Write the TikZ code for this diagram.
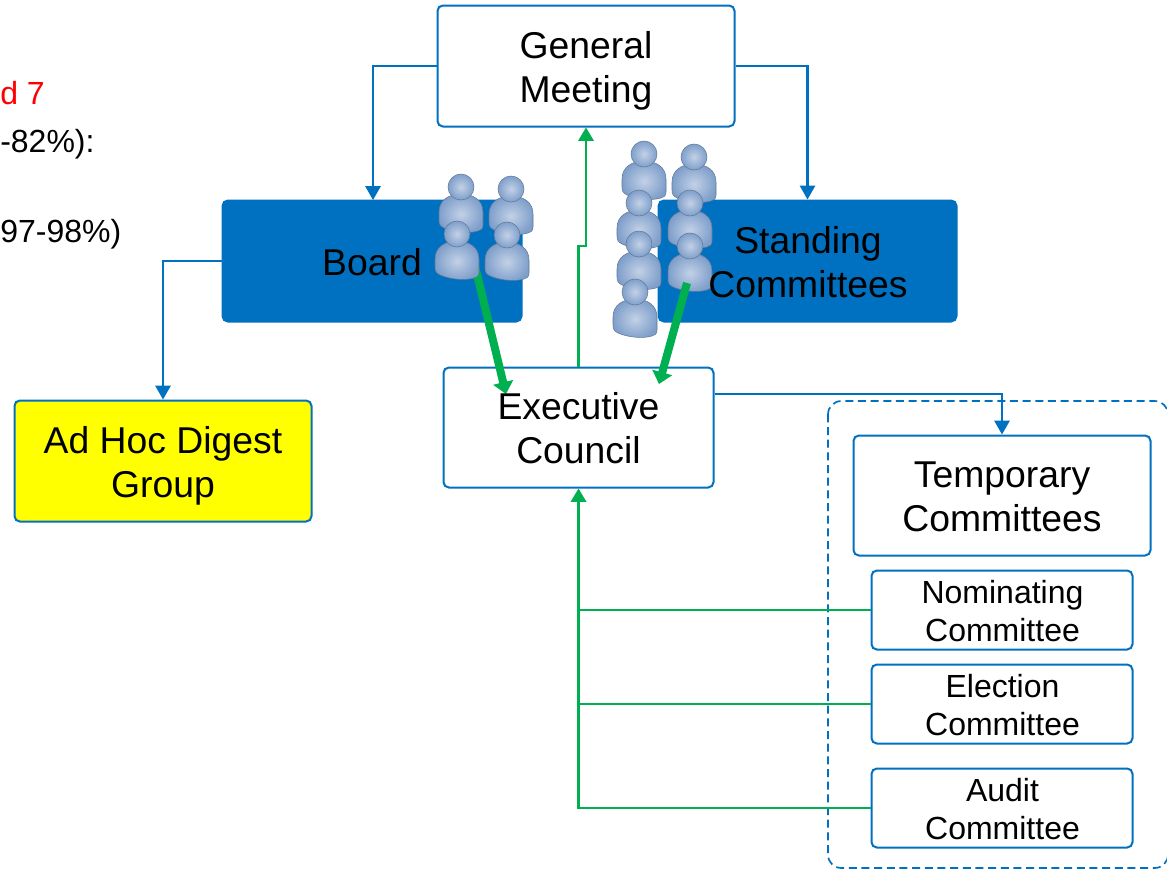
\documentclass[tikz,border=0pt]{standalone}
\usepackage{fontspec}
\setmainfont{Liberation Sans}
\usepackage{tikz}
\usetikzlibrary{arrows.meta,
                calc,
                positioning}
\definecolor{bluebox}{HTML}{0070C0}
\definecolor{greenline}{HTML}{00B050}
\definecolor{brightyellow}{RGB}{255,255,0}
\definecolor{headin}{HTML}{C3D1E6}
\definecolor{headout}{HTML}{7F9FCB}
\definecolor{personedge}{HTML}{5F7893}

\tikzset{
  bigtext/.style={font=\fontsize{28}{33}\selectfont,align=center,inner sep=0pt},
  smalltext/.style={font=\fontsize{24}{28.5}\selectfont,align=center,inner sep=0pt},
  boxsize/.style 2 args={minimum width=#1*0.75pt,minimum height=#2*0.75pt},
  whitebox/.style={draw=bluebox,fill=white,line width=1.5pt,rounded corners=4pt,inner sep=0pt},
  bluefill/.style={whitebox,fill=bluebox},
  yellowfill/.style={whitebox,fill=brightyellow},
  bluearrow/.style={draw=bluebox,line width=1.6pt,-{Triangle[length=10.5pt,width=11.5pt]}},
  greenarrow/.style={draw=greenline,line width=1.6pt,-{Triangle[length=10pt,width=11.5pt]}},
  fatarrow/.style={draw=greenline,line width=6pt,-{Triangle[length=9pt,width=15pt]}},
  person/.pic={
    \path[draw=personedge,line width=.4pt,inner color=headin,outer color=headout]
      (-22,25) .. controls (-22,13) and (-12,7) .. (0,7)
      .. controls (12,7) and (22,13) .. (22,25)
      -- (22,38) .. controls (22,42) and (20,43) .. (17,44)
      .. controls (7,47) and (-8,45) .. (-17,41)
      .. controls (-21,39) and (-22,37) .. (-22,33) -- cycle;
    \path[draw=personedge,line width=.4pt,inner color=headin,outer color=headout]
      (0,0) circle (13*0.75pt);
  }
}

\begin{document}
\begin{tikzpicture}[x=0.75pt,y=-0.75pt]
\useasboundingbox (0,0) rectangle (1167,869);

% cut off text on the left
\node[anchor=base west,inner sep=0pt,red,font=\fontsize{24}{28}\selectfont] (textred) at (0,104) {d 7};
\node[anchor=base west,inner sep=0pt,font=\fontsize{24}{28}\selectfont] (textone) at (0,152) {-82\%):};
\node[anchor=base west,inner sep=0pt,font=\fontsize{24}{28}\selectfont] (texttwo) at (0,242) {97-98\%)};

% dashed frame
\draw[draw=bluebox,line width=1.25pt,dashed,dash pattern=on 6pt off 3.5pt,rounded corners=10pt]
  (828,401) rectangle (1168,868);

% boxes
\node[whitebox,boxsize={297}{121}] (general) at (586,66) {};
\node[bluefill,boxsize={299}{121}] (board) at (372,261) {};
\node[bluefill,boxsize={298}{121}] (standing) at (807.5,261) {};
\node[yellowfill,boxsize={297}{121}] (adhoc) at (163,461) {};
\node[whitebox,boxsize={270}{120}] (exec) at (578.5,427.5) {};
\node[whitebox,boxsize={297}{120}] (temp) at (1002,495.5) {};
\foreach \n/\y/\t in {nominating/610/Nominating,election/704/Election,audit/808/Audit}{
  \node[whitebox,boxsize={261}{79}] (\n) at (1002,\y) {};
  \node[smalltext] (\n text) at (1002.5,\y+1) {\t\\Committee};
}

\node[bigtext] (generaltext) at (586,71) {General\\Meeting};
\node[bigtext] (boardtext) at (372,262) {Board};
\node[bigtext] (adhoctext) at (163,466) {Ad Hoc Digest\\Group};
\node[bigtext] (temptext) at (1002,497) {Temporary\\Committees};

% blue connectors
\draw[bluearrow] (general.west |- 0,66) -| (373,200);
\draw[bluearrow] (general.east |- 0,66) -| (standing.north);
\draw[bluearrow] (board.west) -| (adhoc.north);
\draw[bluearrow] (exec.east |- 0,394) -| (temp.north);

% green connectors
\coordinate (jog) at (578.5,246);
\draw[greenarrow] (exec.north) -- (jog) -| (general.south);
\foreach \n in {nominating,election}
  \draw[draw=greenline,line width=1.6pt] (\n.west) -- (exec.south |- \n.west);
\draw[greenarrow] (audit.west) -| (exec.south);

% fat arrow of the board goes under the people
\coordinate (boardout) at (475.5,268);
\coordinate (execleft) at (506,394);
\draw[fatarrow] (boardout) -- (execleft);

% people
\foreach \x/\y in {461/187,511/189,457/234,507/235,
                   644/154,694/157,639/203,690/203,639/244,690/246,635/292}
  \pic at (\x,\y) {person};

\coordinate (standout) at (687,283);
\coordinate (execright) at (659,384);
\draw[fatarrow] (standout) -- (execright);

\node[bigtext] (standingtext) at (808,262) {Standing\\Committees};
\node[bigtext] (exectext) at (578.5,428.5) {Executive\\Council};
\end{tikzpicture}
\end{document}
